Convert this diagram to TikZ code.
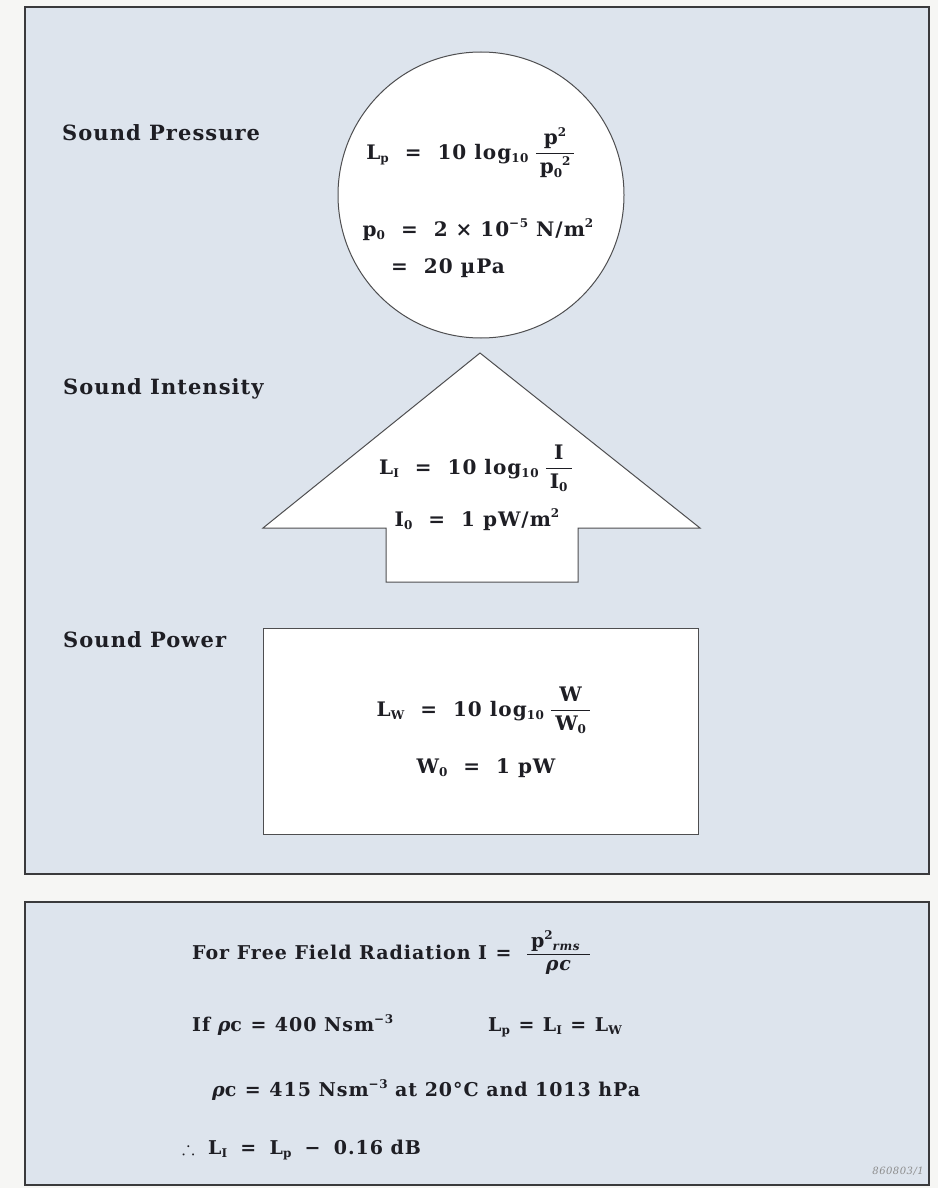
\documentclass[tikz,border=0pt]{standalone}
\usepackage{amsmath,amssymb}
\usepackage{fontspec}
\setmainfont{DejaVu Serif}[LetterSpace=5]
\usetikzlibrary{positioning}
\definecolor{panelbg}{RGB}{221,228,237}
\definecolor{paper}{RGB}{246,246,244}
\definecolor{ink}{RGB}{30,30,36}
\definecolor{rim}{RGB}{58,58,60}
\newcommand{\lo}[1]{\raisebox{-0.35ex}{\fontsize{12}{12}\selectfont #1}}
\newcommand{\hi}[1]{\raisebox{0.8ex}{\fontsize{12}{12}\selectfont #1}}
\newcommand{\fr}[2]{$\genfrac{}{}{0.8pt}{0}{\mbox{\hspace{4pt}#1\hspace{4pt}}}{\mbox{\hspace{4pt}#2\hspace{4pt}}}$}
\newcommand{\eq}{\hspace{0.8em}=\hspace{0.8em}}
\newcommand{\eqs}{\hspace{0.45em}=\hspace{0.45em}}

\begin{document}
\begin{tikzpicture}[x=1pt,y=-1pt,
  panel/.style={draw=rim,line width=2pt,fill=panelbg},
  shapeline/.style={draw=rim!90,line width=1pt,fill=white},
  heading/.style={anchor=base west,inner sep=0pt,text=ink,font=\fontsize{21}{24}\selectfont\bfseries},
  eqline/.style={anchor=base,inner sep=0pt,text=ink,font=\fontsize{20}{23}\selectfont\bfseries},
  ffline/.style={anchor=base west,inner sep=0pt,text=ink,font=\fontsize{19}{22}\selectfont\bfseries}]
  \useasboundingbox (0,0) rectangle (938,1188);
  \fill[paper] (0,0) rectangle (938,1188);
  % panels
  \draw[panel] (25,7) rectangle (929,874);
  \draw[panel] (25,902) rectangle (929,1185);
  % pressure, intensity, power shapes
  \draw[shapeline] (481,195) circle (143);
  \draw[shapeline] (480,353) -- (700,528) -- (578,528) -- (578,582) -- (386,582) -- (386,528) -- (263,528) -- cycle;
  \draw[shapeline] (263,628) rectangle (698,834);
  % headings
  \node[heading] (hpress) at (62,140) {Sound Pressure};
  \node[heading] (hint) at (63,394) {Sound Intensity};
  \node[heading] (hpow) at (63,647) {Sound Power};
  % circle
  \node[eqline] (lp) at (471,159) {L\lo{p}\eq 10 log\lo{10}\hspace{0.3em}\fr{p\hi{2}}{p\lo{0}\hi{2}}};
  \node[eqline] (pref) at (478,236) {p\lo{0}\eq 2 × 10\hi{−5} N/m\hi{2}};
  \node[eqline] (pupa) at (448,273) {=\hspace{0.8em}20 µPa};
  % arrow
  \node[eqline] (li) at (476,474) {L\lo{I}\eq 10 log\lo{10}\hspace{0.3em}\fr{I}{I\lo{0}}};
  \node[eqline] (iref) at (477,526) {I\lo{0}\eq 1 pW/m\hi{2}};
  % box
  \node[eqline] (lw) at (484,716) {L\lo{W}\eq 10 log\lo{10}\hspace{0.3em}\fr{W}{W\lo{0}}};
  \node[eqline] (wref) at (486,773) {W\lo{0}\eq 1 pW};
  % free field panel
  \node[ffline] (ff) at (192,959) {For Free Field Radiation I\eqs\hspace{0.3em}\fr{p\hi{2}\lo{\itshape rms}\hspace{6pt}}{\itshape ρc}};
  \node[ffline] (rc1) at (192,1031) {If {\itshape ρ}c\eqs 400 Nsm\hi{−3}};
  \node[ffline] (lall) at (488,1031) {L\lo{p}\eqs L\lo{I}\eqs L\lo{W}};
  \node[ffline] (rc2) at (212,1096) {{\itshape ρ}c\eqs 415 Nsm\hi{−3} at 20°C and 1013 hPa};
  \node[ffline] (diff) at (182,1154) {$\therefore$\hspace{0.7em}L\lo{I}\hspace{0.7em}=\hspace{0.7em}L\lo{p}\hspace{0.7em}−\hspace{0.7em}0.16 dB};
  \node[anchor=base east,inner sep=0pt,text=black!45,font=\fontsize{10}{11}\selectfont\itshape] (tag) at (924,1174) {860803/1};
\end{tikzpicture}
\end{document}
